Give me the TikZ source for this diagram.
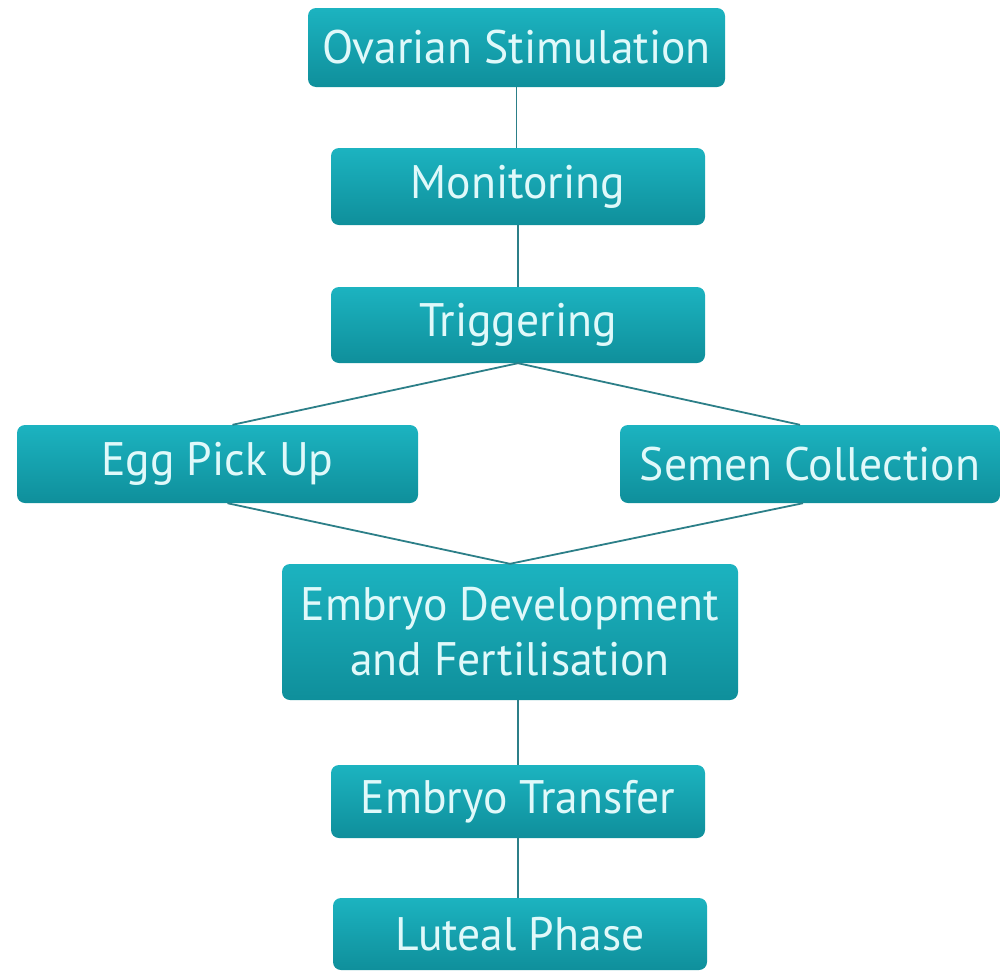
\documentclass[tikz,border=0pt]{standalone}
\usepackage{fontspec}
\setmainfont[FakeStretch=0.97]{PT Sans}
\usetikzlibrary{calc}
\definecolor{boxtop}{HTML}{1CB3C0}
\definecolor{boxbot}{HTML}{0F8F9B}
\definecolor{linec}{HTML}{2C7F88}
\definecolor{txt}{HTML}{E0F9FA}
\begin{document}
\begin{tikzpicture}[x=1pt,y=1pt,
  stagebox/.style={rounded corners=8pt, top color=boxtop, bottom color=boxbot, draw=none,
    text=txt, font=\fontsize{47}{55}\selectfont, align=center, inner sep=0pt},
  conn/.style={draw=linec, line width=1.8pt}]
\useasboundingbox (0,0) rectangle (1007,-972);
\node[stagebox, minimum width=417, minimum height=79] (os) at (516.5,-47.5) {Ovarian Stimulation};
\node[stagebox, minimum width=374, minimum height=77] (mon) at (518,-186.5) {Monitoring};
\node[stagebox, minimum width=374, minimum height=76] (trig) at (518,-325) {Triggering};
\node[stagebox, minimum width=401, minimum height=78] (egg) at (217.5,-464) {Egg Pick Up};
\node[stagebox, minimum width=380, minimum height=78] (sem) at (810,-464) {Semen Collection};
\node[stagebox, minimum width=456, minimum height=136] (emb) at (510,-632) {Embryo Development\\and Fertilisation};
\node[stagebox, minimum width=374, minimum height=73] (et) at (518,-801.5) {Embryo Transfer};
\node[stagebox, minimum width=374, minimum height=72] (lut) at (520,-934) {Luteal Phase};
\draw[conn] (os.south) -- (os.south |- mon.north);
\draw[conn] (mon.south) -- (mon.south |- trig.north);
\draw[conn] (trig.south) -- ($(egg.north)+(15,0)$);
\draw[conn] (trig.south) -- ($(sem.north)+(-10,0)$);
\draw[conn] ($(egg.south)+(10,0)$) -- (emb.north);
\draw[conn] ($(sem.south)+(-7,0)$) -- (emb.north);
\draw[conn] (et.north |- emb.south) -- (et.north);
\draw[conn] (et.south) -- (et.south |- lut.north);
\end{tikzpicture}
\end{document}
